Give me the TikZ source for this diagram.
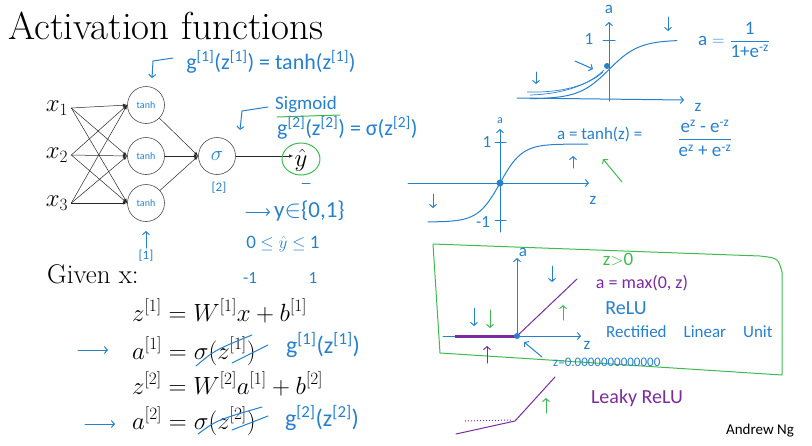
\documentclass[tikz,border=0pt]{standalone}
\usepackage{amsmath,amssymb}
\usepackage{fontspec}
\setsansfont{Carlito}
\usepackage{tikz}
\usetikzlibrary{arrows.meta}
\definecolor{inkblue}{RGB}{38,128,204}
\definecolor{inkgreen}{RGB}{62,186,80}
\definecolor{inkpurple}{RGB}{122,44,158}

\begin{document}
\begin{tikzpicture}[x=1pt,y=-1pt,
  unit/.style={circle,draw=black!70,line width=0.6pt,minimum size=37pt,inner sep=0pt,
    text=inkblue,font=\sffamily\fontsize{10}{10}\selectfont},
  edge/.style={-latex,black!85,line width=0.5pt},
  ink/.style={line width=1pt,line cap=round,line join=round},
  pen/.style={inkblue,ink,-{Straight Barb[length=3pt,width=7pt]}},
  hand/.style={text=inkblue,inner sep=0pt,font=\sffamily\fontsize{17}{19}\selectfont},
  eq/.style={anchor=base west,inner sep=0pt,font=\fontsize{25}{28}\selectfont}]
\useasboundingbox (0,0) rectangle (812,445);
\node[anchor=base west,inner sep=0pt,font=\fontsize{39}{44}\selectfont] (title) at (8,39) {Activation functions};
\begin{scope}[font=\fontsize{24}{26}\selectfont]
  \node[inner sep=3pt] (x1) at (57,108) {$x_1$};
  \node[inner sep=3pt] (x2) at (57,155) {$x_2$};
  \node[inner sep=3pt] (x3) at (57,203) {$x_3$};
  \node[unit] (h1) at (146,105) {tanh};
  \node[unit] (h2) at (146,156) {tanh};
  \node[unit] (h3) at (146,203) {tanh};
  \node[unit,font=\fontsize{20}{20}\selectfont] (o) at (217,156) {$\sigma$};
  \node[inner sep=1pt] (yh) at (301,160) {$\hat{y}$};
\end{scope}
\foreach \i in {1,2,3}
  \foreach \j in {1,2,3}
    \draw[edge] (x\i.east) -- (h\j.west);
\foreach \j in {1,2,3}
  \draw[edge] (h\j) -- (o.west);
\draw[edge] (o) -- (o -| yh.west);
\draw[inkgreen,ink] (301,159) ellipse [x radius=19pt,y radius=16pt];
\draw[inkblue,ink] (302,183) -- (310,183);

\node[hand,font=\sffamily\fontsize{22}{24}\selectfont] (g1) at (271,62) {g\textsuperscript{[1]}(z\textsuperscript{[1]}) = tanh(z\textsuperscript{[1]})};
\draw[pen] (173,58) -- (153,61) -- (152,78);
\node[hand,font=\sffamily\fontsize{19}{21}\selectfont] (sig) at (306,105) {Sigmoid};
\draw[inkgreen,ink] (277,117) -- (340,115);
\node[hand,anchor=west,font=\sffamily\fontsize{22}{24}\selectfont] (g2) at (277,128) {g\textsuperscript{[2]}(z\textsuperscript{[2]}) = σ(z\textsuperscript{[2]})};
\draw[pen] (268,107) -- (242,111) -- (240,130);
\node[hand,font=\sffamily\fontsize{13}{13}\selectfont] (l2) at (219,188) {[2]};
\draw[pen] (246,212) -- (270,212);
\node[hand,anchor=west,font=\sffamily\fontsize{23}{25}\selectfont] (ybin) at (274,211) {y$\in$\{0,1\}};
\node[hand,font=\sffamily\fontsize{19}{21}\selectfont] (rng) at (283,244) {0 $\le\hat{y}\le$ 1};
\node[hand] (lo) at (250,278) {-1};
\node[hand] (hi) at (313,278) {1};
\draw[pen] (146,248) -- (146,231);
\node[hand,font=\sffamily\fontsize{13}{13}\selectfont] (l1) at (146,256) {[1]};

\node[anchor=base west,inner sep=0pt,font=\fontsize{27}{30}\selectfont] (given) at (47,283) {Given x:};
\node[eq] (e1) at (132,321) {$z^{[1]} = W^{[1]}x + b^{[1]}$};
\node[eq] (e2) at (132,359) {$a^{[1]} = \sigma(z^{[1]})$};
\node[eq] (e3) at (132,394) {$z^{[2]} = W^{[2]}a^{[1]} + b^{[2]}$};
\node[eq] (e4) at (132,429) {$a^{[2]} = \sigma(z^{[2]})$};
\draw[pen] (78,350) -- (108,350);
\draw[pen] (85,424) -- (115,424);
\draw[inkblue,ink] (196,366) .. controls (215,350) .. (252,335);
\draw[inkblue,ink] (232,363) -- (268,345);
\draw[inkblue,ink] (198,434) .. controls (217,420) .. (262,407);
\draw[inkblue,ink] (232,430) -- (268,416);
\node[hand,font=\sffamily\fontsize{24}{26}\selectfont] (g1b) at (323,345) {g\textsuperscript{[1]}(z\textsuperscript{[1]})};
\node[hand,font=\sffamily\fontsize{24}{26}\selectfont] (g2b) at (322,418) {g\textsuperscript{[2]}(z\textsuperscript{[2]})};

\begin{scope}
  \draw[pen] (517,98) -- (684,100);
  \draw[pen] (609,101) -- (609,22);
  \draw[inkblue,ink] (603,40) -- (615,40);
  \draw[inkblue,ink] plot[domain=530:677,samples=60,smooth] (\x,{99-59/(1+exp(-(\x-609)/15))});
  \draw[inkblue,line width=0.7pt] (527,92) .. controls (560,93) and (588,86) .. (603,72);
  \draw[inkblue,line width=0.7pt] (530,95) .. controls (565,94) and (590,84) .. (604,70);
  \fill[inkblue] (607,66) circle (3pt);
  \draw[pen] (668,17) -- (668,31);
  \draw[pen] (575,61) -- (593,69);
  \draw[pen] (536,72) -- (536,84);
  \node[hand] (az1) at (609,9) {a};
  \node[hand] (zz1) at (698,107) {z};
  \node[hand] (one1) at (589,39) {1};
  \node[hand,anchor=west,font=\sffamily\fontsize{19}{21}\selectfont] (fsig) at (698,40) {$\text{a} = \dfrac{\text{1}}{\text{1+e}^{\text{-z}}}$};
\end{scope}

\begin{scope}
  \draw[pen] (408,183) -- (589,183);
  \draw[pen] (500,232) -- (500,129);
  \draw[inkblue,ink] (495,142) -- (506,142);
  \draw[inkblue,ink] (495,220) -- (506,220);
  \draw[inkblue,ink] plot[domain=428:588,samples=60,smooth] (\x,{183-39*tanh((\x-500)/22)});
  \fill[inkblue] (500,183) circle (3.5pt);
  \draw[pen] (433,194) -- (433,208);
  \draw[pen] (573,168) -- (573,156);
  \draw[inkgreen,ink,-{Straight Barb[length=3pt,width=7pt]}] (622,182) -- (603,159);
  \node[hand,font=\sffamily\fontsize{12}{12}\selectfont] (az2) at (500,121) {a};
  \node[hand] (zz2) at (593,200) {z};
  \node[hand] (one2) at (487,142) {1};
  \node[hand] (mone2) at (483,222) {-1};
  \node[hand,anchor=west] (ftanh) at (557,134) {a = tanh(z) =};
  \node[hand,font=\sffamily\fontsize{19}{21}\selectfont] (frac2) at (705,138) {$\dfrac{\text{e}^{\text{z}}\text{ - e}^{\text{-z}}}{\text{e}^{\text{z}}\text{ + e}^{\text{-z}}}$};
\end{scope}

\begin{scope}
  \draw[inkgreen,ink] (433,244) -- (760,256) .. controls (778,258) .. (782,272) -- (782,375) -- (440,353) -- cycle;
  \draw[pen] (517,337) -- (517,258);
  \draw[pen] (443,336) -- (581,336);
  \draw[inkpurple,line width=3pt] (455,336) -- (517,336);
  \draw[inkpurple,ink] (517,336) -- (577,279);
  \fill[inkblue] (517,336) circle (3pt);
  \draw[pen] (552,266) -- (552,282);
  \draw[inkgreen,ink,-{Straight Barb[length=3pt,width=7pt]}] (563,320) -- (563,305);
  \draw[pen] (474,308) -- (474,326);
  \draw[inkgreen,ink,-{Straight Barb[length=3pt,width=7pt]}] (490,310) -- (490,328);
  \draw[inkpurple,ink,-{Straight Barb[length=3pt,width=7pt]}] (487,363) -- (487,346);
  \draw[pen] (542,357) -- (524,342);
  \node[hand] (az3) at (523,252) {a};
  \node[hand] (zz3) at (587,345) {z};
  \node[hand,text=inkgreen,font=\sffamily\fontsize{19}{21}\selectfont] (zpos) at (618,260) {z$>$0};
  \node[hand,text=inkpurple,font=\sffamily\fontsize{18}{20}\selectfont] (fmax) at (642,283) {a = max(0, z)};
  \node[hand,font=\sffamily\fontsize{20}{22}\selectfont] (relu) at (626,308) {ReLU};
  \node[hand,anchor=west] (rlu) at (606,332) {Rectified\quad Linear\quad Unit};
  \node[hand,anchor=west,font=\sffamily\fontsize{13}{13}\selectfont] (zero) at (553,362) {z=0.0000000000000};
\end{scope}

\begin{scope}
  \draw[inkpurple,ink] (456,434) -- (515,421) -- (555,377);
  \draw[inkpurple,line width=1pt,dotted] (465,421) -- (511,420);
  \draw[inkgreen,ink,-{Straight Barb[length=3pt,width=7pt]}] (546,413) -- (546,398);
  \node[hand,text=inkpurple,font=\sffamily\fontsize{20}{22}\selectfont] (leaky) at (637,398) {Leaky ReLU};
\end{scope}
\node[inner sep=0pt,font=\sffamily\fontsize{15}{17}\selectfont] (author) at (760,431) {Andrew Ng};
\end{tikzpicture}
\end{document}
